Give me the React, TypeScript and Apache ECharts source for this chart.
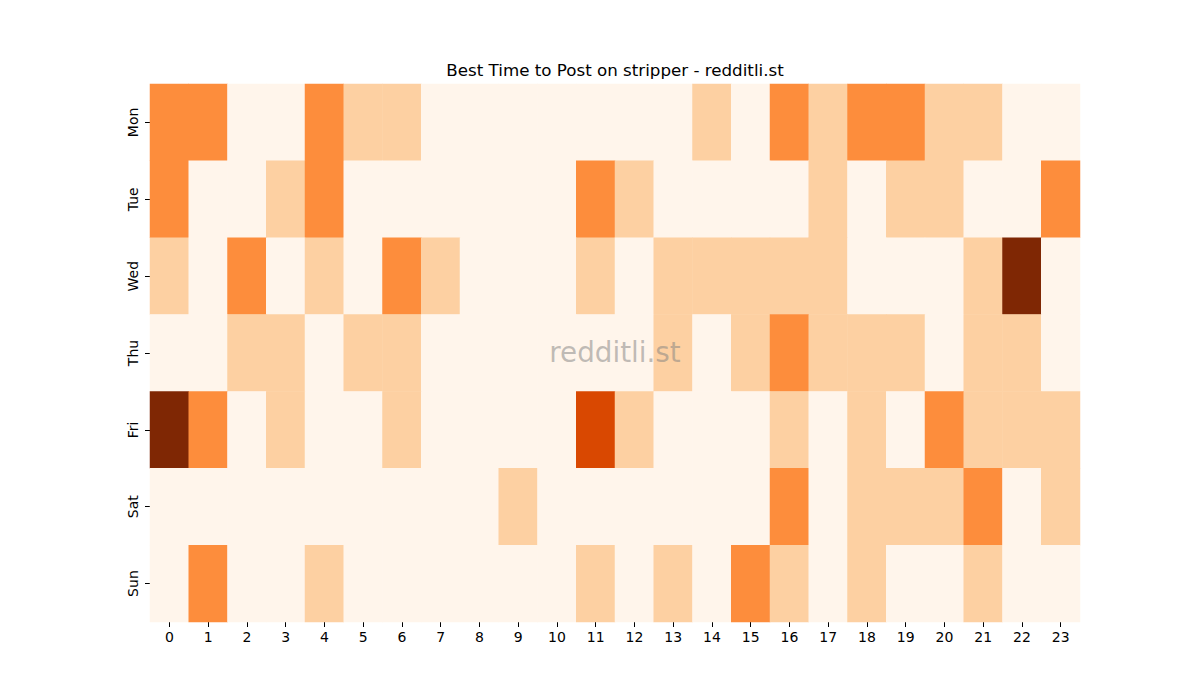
import { useEffect, useRef } from 'react';
import * as echarts from 'echarts';

const hours = Array.from({ length: 24 }, (_, i) => String(i));
const days = ['Mon', 'Tue', 'Wed', 'Thu', 'Fri', 'Sat', 'Sun'];

// activity level per hour, 0 (none) .. 4 (highest)
const mon = [2, 2, 0, 0, 2, 1, 1, 0, 0, 0, 0, 0, 0, 0, 1, 0, 2, 1, 2, 2, 1, 1, 0, 0];
const tue = [2, 0, 0, 1, 2, 0, 0, 0, 0, 0, 0, 2, 1, 0, 0, 0, 0, 1, 0, 1, 1, 0, 0, 2];
const wed = [1, 0, 2, 0, 1, 0, 2, 1, 0, 0, 0, 1, 0, 1, 1, 1, 1, 1, 0, 0, 0, 1, 4, 0];
const thu = [0, 0, 1, 1, 0, 1, 1, 0, 0, 0, 0, 0, 0, 1, 0, 1, 2, 1, 1, 1, 0, 1, 1, 0];
const fri = [4, 2, 0, 1, 0, 0, 1, 0, 0, 0, 0, 3, 1, 0, 0, 0, 1, 0, 1, 0, 2, 1, 1, 1];
const sat = [0, 0, 0, 0, 0, 0, 0, 0, 0, 1, 0, 0, 0, 0, 0, 0, 2, 0, 1, 1, 1, 2, 0, 1];
const sun = [0, 2, 0, 0, 1, 0, 0, 0, 0, 0, 0, 1, 0, 1, 0, 2, 1, 0, 1, 0, 0, 1, 0, 0];

const levelColors = ['#fff5eb', '#fdd0a2', '#fd8d3c', '#d94801', '#7f2704'];

const FONT = '"DejaVu Sans", sans-serif';

export default function App() {
  const chartRef = useRef<HTMLDivElement | null>(null);

  useEffect(() => {
    if (!chartRef.current) return;

    const rows = [mon, tue, wed, thu, fri, sat, sun];
    const data: number[][] = [];
    rows.forEach((row, y) => row.forEach((v, x) => data.push([x, y, v])));

    const chart = echarts.init(chartRef.current, null, { renderer: 'svg' });
    chart.setOption({
      animation: false,
      backgroundColor: '#ffffff',
      grid: { left: 150, right: 120, top: 84, bottom: 78 },
      xAxis: {
        type: 'category',
        data: hours,
        axisLine: { show: false },
        axisTick: { show: true, alignWithLabel: true, length: 5, lineStyle: { color: '#000' } },
        axisLabel: { fontFamily: FONT, fontSize: 14, color: '#000', margin: 8, interval: 0 },
        splitLine: { show: false }
      },
      yAxis: {
        type: 'category',
        data: days,
        inverse: true,
        axisLine: { show: false },
        axisTick: { show: true, alignWithLabel: true, length: 5, lineStyle: { color: '#000' } },
        axisLabel: { fontFamily: FONT, fontSize: 14, color: '#000', rotate: 90, margin: 10 },
        splitLine: { show: false }
      },
      visualMap: {
        type: 'piecewise',
        show: false,
        dimension: 2,
        pieces: levelColors.map((color, i) => ({ value: i, color }))
      },
      graphic: [
        {
          type: 'text',
          x: 615,
          y: 70,
          style: {
            text: 'Best Time to Post on stripper - redditli.st',
            fontFamily: FONT,
            fontSize: 16.7,
            fill: '#000',
            align: 'center',
            verticalAlign: 'middle'
          }
        },
        {
          type: 'text',
          x: 615,
          y: 352,
          style: {
            text: 'redditli.st',
            fontFamily: FONT,
            fontSize: 27.8,
            fill: 'rgba(128,128,128,0.5)',
            align: 'center',
            verticalAlign: 'middle'
          },
          z: 100
        }
      ],
      series: [
        {
          type: 'heatmap',
          data,
          itemStyle: { borderWidth: 0 },
          emphasis: { disabled: true }
        }
      ]
    });

    return () => {
      chart.dispose();
    };
  }, []);

  return (
    <div
      ref={chartRef}
      style={{ position: 'fixed', left: 0, top: 0, width: 1200, height: 700 }}
    />
  );
}
